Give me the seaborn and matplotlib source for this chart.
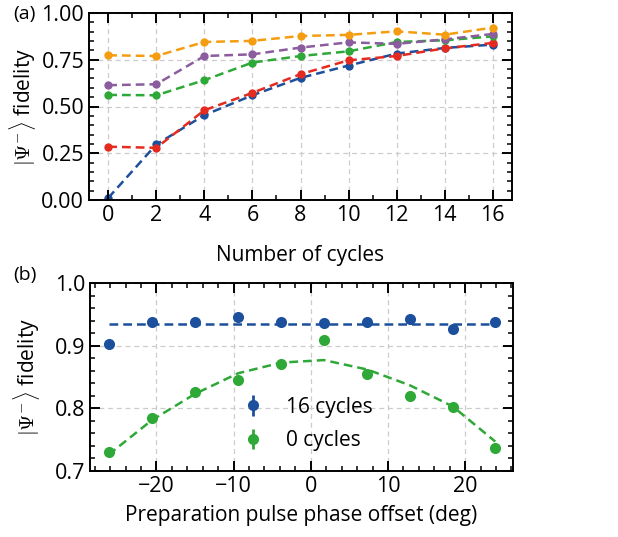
import numpy as np
import pandas as pd
import matplotlib
matplotlib.use("Agg")
import matplotlib.pyplot as plt
import seaborn as sns
from matplotlib.ticker import MultipleLocator

# ---- data panel (a)
cycles = [0, 2, 4, 6, 8, 10, 12, 14, 16]
fid_orange = [0.774, 0.770, 0.845, 0.851, 0.877, 0.883, 0.902, 0.884, 0.922]
fid_purple = [0.614, 0.619, 0.770, 0.779, 0.815, 0.843, 0.835, 0.859, 0.888]
fid_green = [0.562, 0.560, 0.641, 0.735, 0.770, 0.795, 0.845, 0.854, 0.875]
fid_red = [0.285, 0.279, 0.480, 0.573, 0.673, 0.747, 0.770, 0.811, 0.840]
fid_blue = [0.011, 0.297, 0.454, 0.560, 0.653, 0.719, 0.783, 0.813, 0.831]

# ---- data panel (b)
phase = [-26.2, -20.6, -15.0, -9.4, -3.8, 1.7, 7.3, 12.8, 18.4, 23.9]
f16 = [0.903, 0.937, 0.937, 0.945, 0.938, 0.936, 0.938, 0.943, 0.927, 0.937]
f16_err = [0.004] * 10
f16_fit = [0.9346] * 10
f0 = [0.730, 0.784, 0.826, 0.845, 0.870, 0.909, 0.855, 0.819, 0.802, 0.737]
f0_err = [0.005] * 10
f0_fit = [0.726, 0.781, 0.823, 0.856, 0.873, 0.877, 0.862, 0.837, 0.803, 0.747]

C_BLUE = "#1c4f9c"
C_ORANGE = "#f59d10"
C_PURPLE = "#8b5c9e"
C_GREEN = "#2ea836"
C_RED = "#e52a1f"

sns.set_style("ticks")
plt.rcParams["font.family"] = ["Open Sans", "DejaVu Sans"]
plt.rcParams["mathtext.fontset"] = "cm"
plt.rcParams["text.color"] = "black"
plt.rcParams["axes.labelcolor"] = "black"
plt.rcParams["xtick.color"] = "black"
plt.rcParams["ytick.color"] = "black"
plt.rcParams["xtick.direction"] = "in"
plt.rcParams["ytick.direction"] = "in"
plt.rcParams["xtick.top"] = True
plt.rcParams["ytick.right"] = True
plt.rcParams["xtick.major.size"] = 7
plt.rcParams["ytick.major.size"] = 7
plt.rcParams["xtick.minor.size"] = 3.5
plt.rcParams["ytick.minor.size"] = 3.5
plt.rcParams["xtick.major.width"] = 1.4
plt.rcParams["ytick.major.width"] = 1.4
plt.rcParams["xtick.minor.width"] = 1.1
plt.rcParams["ytick.minor.width"] = 1.1
plt.rcParams["xtick.labelsize"] = 15.5
plt.rcParams["ytick.labelsize"] = 15.5

fig = plt.figure(figsize=(6.18, 5.37), dpi=100)
pos1 = [89 / 618, 1 - 200 / 537, 423 / 618, 187 / 537]
pos2 = [90 / 618, 1 - 471 / 537, 423 / 618, 188 / 537]
ax1 = fig.add_axes(pos1)
ax2 = fig.add_axes(pos2)

dfa = pd.DataFrame({
    "cycles": cycles * 5,
    "fid": fid_blue + fid_red + fid_green + fid_purple + fid_orange,
    "series": (["blue"] * 9 + ["red"] * 9 + ["green"] * 9 + ["purple"] * 9 + ["orange"] * 9),
})
pal = {"blue": C_BLUE, "red": C_RED, "green": C_GREEN, "purple": C_PURPLE, "orange": C_ORANGE}
for name in ["blue", "red", "green", "purple", "orange"]:
    sub = dfa[dfa.series == name]
    sns.lineplot(data=sub, x="cycles", y="fid", ax=ax1, color=pal[name],
                 marker="o", markersize=6, markeredgewidth=0, lw=1.8,
                 linestyle=(0, (3.5, 2)), legend=False)

ax1.set_xlim(-0.8, 16.8)
ax1.set_ylim(0, 1.0)
ax1.xaxis.set_major_locator(MultipleLocator(2))
ax1.xaxis.set_minor_locator(MultipleLocator(1))
ax1.yaxis.set_major_locator(MultipleLocator(0.25))
ax1.yaxis.set_minor_locator(MultipleLocator(0.05))
ax1.set_xlabel("Number of cycles", fontsize=15, labelpad=14)
ax1.set_ylabel(r"$|\Psi^{-}\rangle$ fidelity", fontsize=15, labelpad=2)

# panel b
dfb = pd.DataFrame({"phase": phase, "f16fit": f16_fit, "f0fit": f0_fit})
sns.lineplot(data=dfb, x="phase", y="f16fit", ax=ax2, color=C_BLUE, lw=1.8,
             linestyle=(0, (3.5, 2)), legend=False)
sns.lineplot(data=dfb, x="phase", y="f0fit", ax=ax2, color=C_GREEN, lw=1.8,
             linestyle=(0, (3.5, 2)), legend=False)
ax2.errorbar(phase, f16, yerr=f16_err, fmt="o", color=C_BLUE, ms=8, mew=0,
             elinewidth=2, label="16 cycles")
ax2.errorbar(phase, f0, yerr=f0_err, fmt="o", color=C_GREEN, ms=8, mew=0,
             elinewidth=2, label="0 cycles")
ax2.set_xlim(-28.6, 26.2)
ax2.set_ylim(0.7, 1.0)
ax2.xaxis.set_major_locator(MultipleLocator(10))
ax2.xaxis.set_minor_locator(MultipleLocator(2))
ax2.yaxis.set_major_locator(MultipleLocator(0.1))
ax2.yaxis.set_minor_locator(MultipleLocator(0.02))
ax2.set_xlabel("Preparation pulse phase offset (deg)", fontsize=15, labelpad=6)
ax2.set_ylabel(r"$|\Psi^{-}\rangle$ fidelity", fontsize=15, labelpad=9)
ax2.legend(loc="center left", bbox_to_anchor=(0.361, 0.25), frameon=False, fontsize=15,
           handlelength=1.0, handletextpad=1.1, labelspacing=0.6,
           borderpad=0, borderaxespad=0)

for ax, pos in ((ax1, pos1), (ax2, pos2)):
    ax.set_axisbelow(True)
    ax.grid(True, which="major", linestyle=(0, (4, 3)), color="#cccccc", lw=0.9)
    ax.tick_params(which="both", direction="in", length=0)
    for s in ax.spines.values():
        s.set_linewidth(1.2)
        s.set_color("black")
    # transparent overlay axes carrying the inward ticks on all four sides
    axt = fig.add_axes(pos, sharex=ax, sharey=ax, zorder=ax.get_zorder() + 1)
    axt.patch.set_visible(False)
    axt.grid(False)
    axt.tick_params(which="both", direction="in", top=True, right=True,
                    bottom=True, left=True, color="black",
                    labelbottom=False, labelleft=False, labeltop=False, labelright=False)
    axt.tick_params(which="major", length=7, width=1.4)
    axt.tick_params(which="minor", length=3.5, width=1.1)
    axt.set_xlabel("")
    axt.set_ylabel("")
    for s in axt.spines.values():
        s.set_linewidth(1.2)
        s.set_color("black")

fig.text(13 / 618, 1 - 14 / 537, "(a)", fontsize=14, va="center", ha="left")
fig.text(13 / 618, 1 - 275 / 537, "(b)", fontsize=14, va="center", ha="left")

fig.savefig("out.png", dpi=100)
